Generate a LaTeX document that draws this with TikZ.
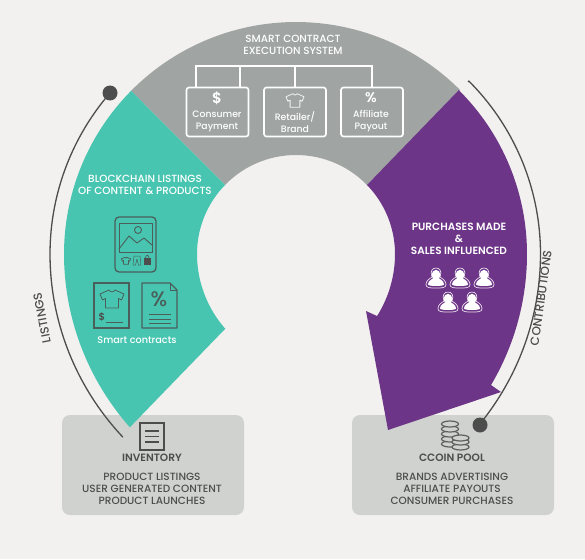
\documentclass[tikz,border=0pt]{standalone}
\usepackage{fontspec}
\setmainfont{Poppins}[UprightFont=* Medium,BoldFont=* SemiBold]
\definecolor{bgc}{HTML}{F2F1EF}
\definecolor{boxc}{HTML}{D0D2CF}
\definecolor{grayc}{HTML}{A0A5A4}
\definecolor{tealc}{HTML}{47C5B0}
\definecolor{purplec}{HTML}{6D3587}
\definecolor{darkc}{HTML}{4D4D4D}
\definecolor{iconc}{HTML}{4A5F5A}
\tikzset{
  x=1pt,y=-1pt,
  panel/.style={fill=boxc,draw=none,rounded corners=8pt},
  cardbox/.style={draw=white,line width=1.6pt,rounded corners=2.5pt,minimum width=62pt,minimum height=49pt,inner sep=0,fill=none},
  wire/.style={draw=white,line width=1.5pt},
  guide/.style={draw=darkc,line width=1.3pt},
  dotn/.style={circle,fill=darkc,minimum size=15pt,inner sep=0},
  wtxt/.style={text=white,align=center,inner sep=0,font=\fontsize{10.4}{12}\selectfont},
  wsm/.style={text=white,align=center,inner sep=0,font=\fontsize{9.3}{12}\selectfont},
  dtxt/.style={text=darkc,align=center,inner sep=0,font=\fontsize{10.5}{12}\selectfont},
  dhead/.style={text=darkc,align=center,inner sep=0,font=\fontsize{10.6}{12}\selectfont\bfseries},
  rtxt/.style={text=darkc,inner sep=0,font=\fontsize{12}{12}\selectfont},
  ic/.style={draw=iconc,line width=1.1pt},
  shirt/.pic={\path[pic actions,line join=round] (-3,-7) .. controls (-2,-4.5) and (2,-4.5) .. (3,-7) -- (12,-3) -- (9.5,3) -- (6.5,1.5) -- (6.5,11) -- (-6.5,11) -- (-6.5,1.5) -- (-9.5,3) -- (-12,-3) -- cycle;},
  person/.pic={
    \path[draw=white!85!purplec,line width=.7pt] (-4,-1) .. controls (-9,-13) and (9,-13) .. (4,-1) .. controls (7,1) and (10,3) .. (10,6.5) .. controls (10,10) and (6,10) .. (0,10) .. controls (-6,10) and (-10,10) .. (-10,6.5) .. controls (-10,3) and (-7,1) .. (-4,-1) -- cycle;
    \path[fill=white] (0,-3) ellipse (4.4 and 5.2);
    \path[fill=white] (-8,6.5) .. controls (-8,2.5) and (-4,1.5) .. (-2.5,0) -- (2.5,0) .. controls (4,1.5) and (8,2.5) .. (8,6.5) .. controls (8,8.5) and (-8,8.5) .. (-8,6.5) -- cycle;
  }
}
\begin{document}
\begin{tikzpicture}
\path[fill=bgc] (0,0) rectangle (585,559);
\useasboundingbox (0,0) rectangle (585,559);
% panels
\path[panel] (62,415) rectangle (244,515);
\path[panel] (352,415) rectangle (554,515);
% gray sector
\path[fill=grayc] plot[domain=224.7:315,samples=60] ({296+232*cos(\x)},{254+232*sin(\x)})
  -- plot[domain=315.8:224.2,samples=40] ({296+99*cos(\x)},{254+99*sin(\x)}) -- cycle;
% teal
\path[fill=tealc] plot[domain=224.7:133.8,samples=70] ({296+(232+8*(max(0,(180-\x)/46))^2)*cos(\x)},{254+(232+8*(max(0,(180-\x)/46))^2)*sin(\x)})
  -- (225,329)
  -- plot[domain=133.4:224.2,samples=50] ({296+(99+4*(max(0,(180-\x)/47))^2)*cos(\x)},{254+(99+4*(max(0,(180-\x)/47))^2)*sin(\x)}) -- cycle;
% purple
\path[fill=purplec] (458,91) -- plot[domain=-45.2:33.9,samples=70] ({296+(231+4*(max(0,\x/34))^2)*cos(\x)},{254+(231+4*(max(0,\x/34))^2)*sin(\x)})
  -- (501,392) -- (388,430) -- (366,311) -- (377,316)
  -- plot[domain=37.4:-44.2,samples=50] ({296+(99+3*(max(0,\x/37))^2)*cos(\x)},{254+(99+3*(max(0,\x/37))^2)*sin(\x)}) -- cycle;
% guide arcs
\node[dotn] (dotL) at (110,93) {};
\node[dotn] (dotR) at (480,425) {};
\coordinate (endL) at (123,437);
\coordinate (endR) at (468,82);
\draw[guide] (dotL.center) -- plot[domain=221:133.5,samples=70] ({296+(246+6*(max(0,(180-\x)/46.5))^2)*cos(\x)},{254+(246+6*(max(0,(180-\x)/46.5))^2)*sin(\x)}) -- (endL);
\draw[guide] (endR) -- plot[domain=-45:42.9,samples=70] ({296+(244.5+6*(max(0,\x/43))^2)*cos(\x)},{254+(244.5+6*(max(0,\x/43))^2)*sin(\x)}) -- (dotR.center);
\node[rtxt,rotate=101] (lblL) at (42,318) {LISTINGS};
\node[rtxt,rotate=82] (lblR) at (541,298) {CONTRIBUTIONS};
% top title and cards
\node[wtxt] (title) at (293,45) {SMART CONTRACT\\EXECUTION SYSTEM};
\node[cardbox] (c1) at (217.5,112) {};
\node[cardbox] (c2) at (295,112) {};
\node[cardbox] (c3) at (372,112) {};
\coordinate (busA) at (196,66);
\coordinate (busB) at (240,66);
\coordinate (busC) at (295,66);
\coordinate (busD) at (372,66);
\draw[wire,line cap=rect] (busA) -- (busD);
\draw[wire] (busA) -- (busA |- c1.north);
\draw[wire] (busB) -- (busB |- c1.north);
\draw[wire] (busC) -- (c2.north);
\draw[wire] (busD) -- (c3.north);
\node[text=white,inner sep=0,font=\fontsize{15}{15}\selectfont\bfseries] (d1) at (217,98) {\$};
\node[wsm] (t1) at (217,121) {Consumer\\Payment};
\pic[draw=white!85!grayc,line width=.8pt,scale=.75] at (295,99) {shirt};
\node[wsm] (t2) at (295,122) {Retailer/\\Brand};
\node[text=white,inner sep=0,font=\fontsize{14}{14}\selectfont\bfseries] (d3) at (371,98) {\%};
\node[wsm] (t3) at (371,121) {Affiliate\\Payout};
% teal content
\node[wtxt] (tealt) at (145,184.5) {BLOCKCHAIN LISTINGS\\OF CONTENT \& PRODUCTS};
\node[ic,rounded corners=4pt,minimum width=41pt,minimum height=55pt,line width=1.3pt,inner sep=0] (tablet) at (135.5,244.5) {};
\node[ic,minimum width=33pt,minimum height=29pt,inner sep=0,line width=.9pt] (pict) at (135.5,237.5) {};
\draw[ic,line width=.9pt] (138,230) circle (3.5);
\draw[ic,line width=.9pt,line join=round] (119,249) -- (129,236) -- (137,243) -- (144,238) -- (152,245);
\pic[ic,line width=.8pt,scale=.38] at (126,260) {shirt};
\draw[ic,line width=.5pt,line join=round] (134,256) -- (140,256) -- (141,265) -- (138.5,265) -- (137,259) -- (135.5,265) -- (133,265) -- cycle;
\path[fill=darkc] (143.5,258) rectangle (151,265);
\draw[darkc,line width=.6pt] (145.5,258) .. controls (145.5,254.5) and (149,254.5) .. (149,258);
\node[ic,minimum width=35pt,minimum height=45pt,inner sep=0,line width=1.3pt] (doc1) at (111.5,305.5) {};
\pic[ic,line width=.8pt,scale=1] at (112,297) {shirt};
\node[text=darkc,inner sep=0,font=\fontsize{10}{10}\selectfont\bfseries] (doll) at (102,317) {\$};
\coordinate (dl1) at (106,322);
\coordinate (dl2) at (123,322);
\draw[ic,line width=.9pt] (dl1) -- (dl2);
\draw[ic,line width=1.3pt,line join=round] (142,283) -- (170,283) -- (177,290) -- (177,328) -- (142,328) -- cycle;
\draw[ic,line width=.8pt] (170,283) -- (170,290) -- (177,290);
\node[text=iconc,inner sep=0,font=\fontsize{21}{21}\selectfont] (pct) at (159,299) {\%};
\foreach \yy in {314,319,323}{\draw[ic,line width=1pt] (149,\yy) -- (171,\yy);}
\node[wsm,font=\fontsize{9.7}{12}\selectfont] (smart) at (137,340) {Smart contracts};
% purple content
\node[wtxt,font=\fontsize{10.5}{12}\selectfont\bfseries] (purt) at (459,239) {PURCHASES MADE\\\&\\SALES INFLUENCED};
\foreach \px/\py in {436/278,460/278,484/278,448/302,472/302}{\pic at (\px,\py) {person};}
% inventory
\node[draw=darkc,line width=1.5pt,minimum width=24pt,minimum height=27pt,inner sep=0] (inv) at (152,436.5) {};
\foreach \yy in {431,436.5,442}{\draw[darkc,line width=1.3pt] (145,\yy) -- (159,\yy);}
\node[dhead] (invt) at (152,458) {INVENTORY};
\node[dtxt] (invl) at (152,489) {PRODUCT LISTINGS\\USER GENERATED CONTENT\\PRODUCT LAUNCHES};
% ccoin
\foreach \yy in {444,439,434,429,424}{\draw[fill=boxc,draw=darkc!90,line width=1.2pt] (450,\yy) ellipse (8.5 and 3);}
\foreach \yy in {447,442,438}{\draw[fill=boxc,draw=darkc!90,line width=1.2pt] (460.5,\yy) ellipse (8.5 and 3);}
\node[dhead] (cct) at (452,458) {CCOIN POOL};
\node[dtxt] (ccl) at (452,489) {BRANDS ADVERTISING\\AFFILIATE PAYOUTS\\CONSUMER PURCHASES};
\end{tikzpicture}
\end{document}
